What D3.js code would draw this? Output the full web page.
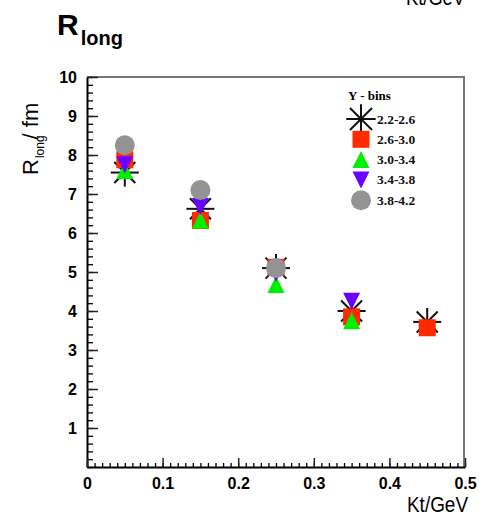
<!DOCTYPE html>
<html><head><meta charset="utf-8">
<script src="https://cdn.jsdelivr.net/npm/d3@7"></script>
<style>
html,body{margin:0;padding:0;background:#fff;}
svg{display:block;}
</style></head>
<body>
<script>
// ---- data ----
const kt = [0.05, 0.15, 0.25, 0.35, 0.45];
const binLabels = ["2.2-2.6", "2.6-3.0", "3.0-3.4", "3.4-3.8", "3.8-4.2"];
const bin1 = [7.55, 6.62, 5.10, 4.00, 3.72];   // 2.2-2.6 star
const bin2 = [7.88, 6.32, 5.12, 3.85, 3.57];   // 2.6-3.0 red square
const bin3 = [7.60, 6.33, 4.68, 3.75, null];   // 3.0-3.4 green triangle
const bin4 = [7.75, 6.68, 4.97, 4.25, null];   // 3.4-3.8 blue inverted triangle
const bin5 = [8.25, 7.10, 5.10, null, null];   // 3.8-4.2 grey circle
const xTicks = [0, 0.1, 0.2, 0.3, 0.4, 0.5];
const yTicks = [1, 2, 3, 4, 5, 6, 7, 8, 9, 10];

const W = 479, H = 519;
const svg = d3.select("body").append("svg").attr("width", W).attr("height", H);

const x = d3.scaleLinear().domain([0, 0.5]).range([87, 465]);
const y = d3.scaleLinear().domain([0, 10]).range([467, 77]);

// frame top/right
svg.append("line").attr("x1", x(0)).attr("x2", x(0.5)).attr("y1", y(10)).attr("y2", y(10))
  .attr("stroke", "#777").attr("stroke-width", 2);
svg.append("line").attr("x1", x(0.5)-1).attr("x2", x(0.5)-1).attr("y1", y(10)).attr("y2", y(0))
  .attr("stroke", "#777").attr("stroke-width", 2);

// minor ticks
const yMinor = d3.range(0, 10.001, 0.2).map(v => +v.toFixed(2));
const xMinor = d3.range(0, 0.5001, 0.01).map(v => +v.toFixed(3));
svg.append("g").attr("transform", `translate(${x(0)},0)`)
  .call(d3.axisLeft(y).tickValues(yMinor).tickSizeInner(-6).tickSizeOuter(0).tickFormat(""))
  .call(g => g.select(".domain").remove())
  .selectAll("line").attr("stroke", "#000").attr("stroke-width", 1.3);
svg.append("g").attr("transform", `translate(0,${y(0)})`)
  .call(d3.axisBottom(x).tickValues(xMinor).tickSizeInner(-4).tickSizeOuter(0).tickFormat(""))
  .call(g => g.select(".domain").remove())
  .selectAll("line").attr("stroke", "#000").attr("stroke-width", 1.3);

// major axes
const yAxis = svg.append("g").attr("transform", `translate(${x(0)},0)`)
  .call(d3.axisLeft(y).tickValues(yTicks).tickSizeInner(-11).tickSizeOuter(0).tickPadding(10).tickFormat(d3.format("d")));
const xAxis = svg.append("g").attr("transform", `translate(0,${y(0)})`)
  .call(d3.axisBottom(x).tickValues(xTicks).tickSizeInner(-9).tickSizeOuter(0).tickPadding(8)
    .tickFormat(d => d === 0 ? "0" : d3.format(".1f")(d)));
[yAxis, xAxis].forEach(g => {
  g.select(".domain").attr("stroke", "#000").attr("stroke-width", 2);
  g.selectAll("line").attr("stroke", "#222").attr("stroke-width", 1.5);
  g.selectAll("text").attr("fill", "#000").attr("font-family", "Liberation Sans, Arial, sans-serif")
    .attr("font-weight", "bold").attr("font-size", 16);
});
xAxis.selectAll("text").attr("dy", "0.9em");

// ---- markers ----
const colors = ["#000", "#ff2a00", "#00ee00", "#6a00ff", "#939393"];
const sq = 17, tri = 17, cr = 10, st = 14;
function drawMarker(g, type, cx, cy, s) {
  s = s || 1;
  if (type === 0) {
    const a = st * s, b = st * s * 0.75;
    const segs = [[-a,0,a,0],[0,-a,0,a],[-b,-b,b,b],[-b,b,b,-b]];
    segs.forEach(d => g.append("line").attr("x1", cx+d[0]).attr("y1", cy+d[1]).attr("x2", cx+d[2]).attr("y2", cy+d[3])
      .attr("stroke", "#111").attr("stroke-width", 2));
  } else if (type === 1) {
    g.append("rect").attr("x", cx - sq*s/2).attr("y", cy - sq*s/2).attr("width", sq*s).attr("height", sq*s).attr("fill", colors[1]);
  } else if (type === 2) {
    const h = tri*s, w = tri*s;
    g.append("path").attr("d", `M${cx},${cy-h/2} L${cx+w/2},${cy+h/2} L${cx-w/2},${cy+h/2} Z`).attr("fill", colors[2]);
  } else if (type === 3) {
    const h = tri*s, w = tri*s;
    g.append("path").attr("d", `M${cx},${cy+h/2} L${cx+w/2},${cy-h/2} L${cx-w/2},${cy-h/2} Z`).attr("fill", colors[3]);
  } else {
    g.append("circle").attr("cx", cx).attr("cy", cy).attr("r", cr*s).attr("fill", colors[4]);
  }
}
const series = [bin1, bin2, bin3, bin4, bin5];
const mg = svg.append("g");
series.forEach((vals, i) => {
  vals.forEach((v, j) => {
    if (v === null) return;
    drawMarker(mg, i, x(kt[j]), y(v));
  });
});

// ---- legend ----
const lg = svg.append("g");
lg.append("text").attr("x", 348).attr("y", 100).attr("font-family", "Liberation Serif, Times New Roman, serif")
  .attr("font-weight", "bold").attr("font-size", 13).text("Y - bins");
binLabels.forEach((lab, i) => {
  const cy = 119 + i * 20.3;
  drawMarker(lg, i, 361, cy, i === 0 ? 1.05 : 1);
  lg.append("text").attr("x", 377).attr("y", cy + 4.5).attr("font-family", "Liberation Serif, Times New Roman, serif")
    .attr("font-weight", "bold").attr("font-size", 13.5).attr("fill", "#111").text(lab);
});

// ---- titles ----
const title = svg.append("text").attr("x", 57).attr("y", 35)
  .attr("font-family", "Liberation Sans, Arial, sans-serif").attr("font-weight", "bold").attr("fill", "#000");
title.append("tspan").attr("font-size", 30).text("R");
title.append("tspan").attr("font-size", 20).attr("dy", 10).attr("dx", 2).text("long");

svg.append("text").attr("x", 406).attr("y", 5)
  .attr("font-family", "Liberation Sans, Arial, sans-serif").attr("font-size", 22)
  .attr("textLength", 59).attr("lengthAdjust", "spacingAndGlyphs").text("Kt/GeV");
svg.append("text").attr("x", 407).attr("y", 512)
  .attr("font-family", "Liberation Sans, Arial, sans-serif").attr("font-size", 22)
  .attr("textLength", 61).attr("lengthAdjust", "spacingAndGlyphs").text("Kt/GeV");

const yt = svg.append("text").attr("transform", "translate(38,175) rotate(-90)")
  .attr("font-family", "Liberation Sans, Arial, sans-serif").attr("fill", "#000");
yt.append("tspan").attr("font-size", 22).text("R");
yt.append("tspan").attr("font-size", 12).attr("dy", 6).attr("dx", 1).text("long");
yt.append("tspan").attr("font-size", 22).attr("dy", -6).attr("dx", -4).text("/ fm");
</script>
</body></html>
